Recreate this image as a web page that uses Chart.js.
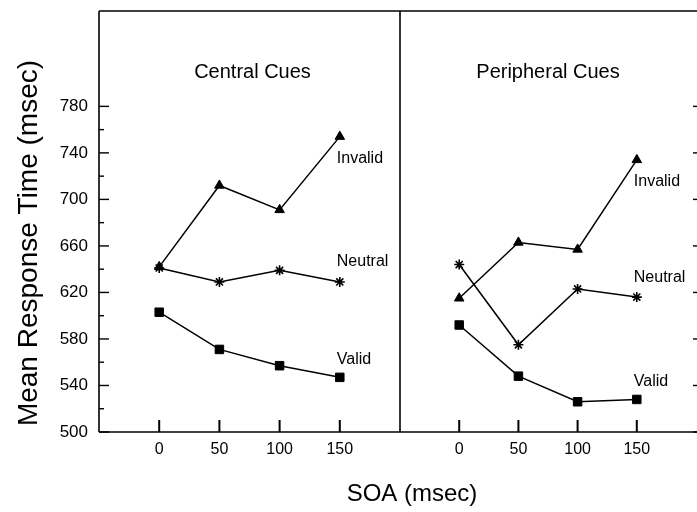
<!DOCTYPE html>
<html>
<head>
<meta charset="utf-8">
<script src="https://cdn.jsdelivr.net/npm/chart.js@4"></script>
<style>
  html, body { margin: 0; padding: 0; background: #fff; }
  #lienzo { position: relative; width: 697px; height: 512px; }
  #lienzo canvas { position: absolute; left: 0; top: 0; }
</style>
</head>
<body>
<div id="lienzo">
  <canvas id="central" width="697" height="512"></canvas>
  <canvas id="periferico" width="697" height="512"></canvas>
</div>
<script>
// Datos
const soa = [0, 50, 100, 150];
const centralInvalido = [642, 712, 691, 754];
const centralNeutral = [641, 629, 639, 629];
const centralValido = [603, 571, 557, 547];
const perifericoInvalido = [615, 663, 657, 734];
const perifericoNeutral = [644, 575, 623, 616];
const perifericoValido = [592, 548, 526, 528];
const ticksY = [500, 540, 580, 620, 660, 700, 740, 780];
const ticksYMenores = [520, 560, 600, 640, 680, 720, 760];
const ticksX = [0, 50, 100, 150];
const nombresSeries = ['Invalid', 'Neutral', 'Valid'];

const fuente = "'Liberation Sans', Arial, sans-serif";

function puntos(valores) {
  return soa.map((x, i) => ({ x: x, y: valores[i] }));
}

function linea(p1, p2, ctx) {
  ctx.beginPath();
  ctx.moveTo(p1[0], p1[1]);
  ctx.lineTo(p2[0], p2[1]);
  ctx.stroke();
}

// Quita el relleno que Chart.js reserva para las etiquetas extremas
function sinRelleno(s) {
  s.paddingTop = 0;
  s.paddingBottom = 0;
  s.paddingLeft = 0;
  s.paddingRight = 0;
}

// Dibuja marco, marcas de eje y textos de cada panel
function pluginMarco(titulo, esIzquierdo, series) {
  return {
    id: 'marco',
    afterDraw(chart) {
      const ctx = chart.ctx;
      const a = chart.chartArea;
      const sx = chart.scales.x;
      const sy = chart.scales.y;
      ctx.save();
      ctx.strokeStyle = '#000';
      ctx.lineWidth = 1.6;
      linea([a.left, a.top], [a.right + (esIzquierdo ? 0 : 1), a.top], ctx);
      linea([a.left, a.bottom], [a.right + (esIzquierdo ? 0 : 1), a.bottom], ctx);
      if (esIzquierdo) {
        linea([a.left, a.top], [a.left, a.bottom], ctx);
        linea([a.right, a.top], [a.right, a.bottom], ctx);
      }
      // marcas del eje x hacia dentro
      ctx.lineWidth = 2;
      ticksX.forEach(v => {
        const x = sx.getPixelForValue(v);
        linea([x, a.bottom], [x, a.bottom - 12], ctx);
      });
      ctx.lineWidth = 1.4;
      if (esIzquierdo) {
        ticksY.forEach(v => {
          const y = sy.getPixelForValue(v);
          linea([a.left, y], [a.left + 10, y], ctx);
        });
        ticksYMenores.forEach(v => {
          const y = sy.getPixelForValue(v);
          linea([a.left, y], [a.left + 5, y], ctx);
        });
      } else {
        ticksY.forEach(v => {
          const y = sy.getPixelForValue(v);
          linea([a.right - 3, y], [a.right + 1, y], ctx);
        });
      }
      // textos
      ctx.fillStyle = '#000';
      ctx.textAlign = 'center';
      ctx.textBaseline = 'middle';
      ctx.font = '20px ' + fuente;
      ctx.fillText(titulo, (a.left + a.right) / 2 + (esIzquierdo ? 3 : 0), 72);
      const desplazamientos = [22, -20, -18];
      ctx.font = '16px ' + fuente;
      ctx.textAlign = 'left';
      series.forEach((valores, i) => {
        const x = sx.getPixelForValue(soa[soa.length - 1]) - 3;
        const y = sy.getPixelForValue(valores[valores.length - 1]) + desplazamientos[i];
        ctx.fillText(nombresSeries[i], x, y);
      });
      if (esIzquierdo) {
        ctx.textAlign = 'center';
        ctx.font = '24px ' + fuente;
        ctx.fillText('SOA (msec)', 412, 494);
        ctx.save();
        ctx.translate(29, 243);
        ctx.rotate(-Math.PI / 2);
        ctx.font = '28px ' + fuente;
        ctx.fillText('Mean Response Time (msec)', 0, 0);
        ctx.restore();
      }
      ctx.restore();
    }
  };
}

function crearPanel(id, titulo, series, esIzquierdo) {
  const estilos = [
    { pointStyle: 'triangle', pointRadius: 5.5, pointBorderWidth: 1 },
    { pointStyle: 'star', pointRadius: 5, pointBorderWidth: 1.6 },
    { pointStyle: 'rect', pointRadius: 6, pointBorderWidth: 1 }
  ];
  const datasets = series.map((valores, i) => Object.assign({
    label: nombresSeries[i],
    data: puntos(valores),
    borderColor: '#000',
    backgroundColor: '#000',
    pointBackgroundColor: '#000',
    pointBorderColor: '#000',
    borderWidth: 1.5,
    tension: 0,
    clip: false
  }, estilos[i]));

  return new Chart(document.getElementById(id), {
    type: 'line',
    data: { datasets: datasets },
    options: {
      responsive: false,
      animation: false,
      events: [],
      layout: {
        autoPadding: false,
        padding: { left: esIzquierdo ? 0 : 400, right: esIzquierdo ? 297 : 1, top: 11, bottom: 0 }
      },
      plugins: { legend: { display: false }, tooltip: { enabled: false } },
      scales: {
        x: {
          type: 'linear',
          min: -50,
          max: 200,
          afterBuildTicks: s => { s.ticks = ticksX.map(v => ({ value: v })); },
          afterFit: s => { s.height = 80; sinRelleno(s); },
          grid: { display: false, drawTicks: false },
          border: { display: false },
          ticks: { color: '#000', font: { family: fuente, size: 16 }, padding: 8 }
        },
        y: {
          type: 'linear',
          display: esIzquierdo,
          min: 500,
          max: 862,
          afterBuildTicks: s => { s.ticks = ticksY.map(v => ({ value: v })); },
          afterFit: s => { if (esIzquierdo) s.width = 99; sinRelleno(s); },
          grid: { display: false, drawTicks: false },
          border: { display: false },
          ticks: { color: '#000', font: { family: fuente, size: 17 }, padding: 11 }
        }
      }
    },
    plugins: [pluginMarco(titulo, esIzquierdo, series)]
  });
}

crearPanel('central', 'Central Cues', [centralInvalido, centralNeutral, centralValido], true);
crearPanel('periferico', 'Peripheral Cues', [perifericoInvalido, perifericoNeutral, perifericoValido], false);
</script>
</body>
</html>
